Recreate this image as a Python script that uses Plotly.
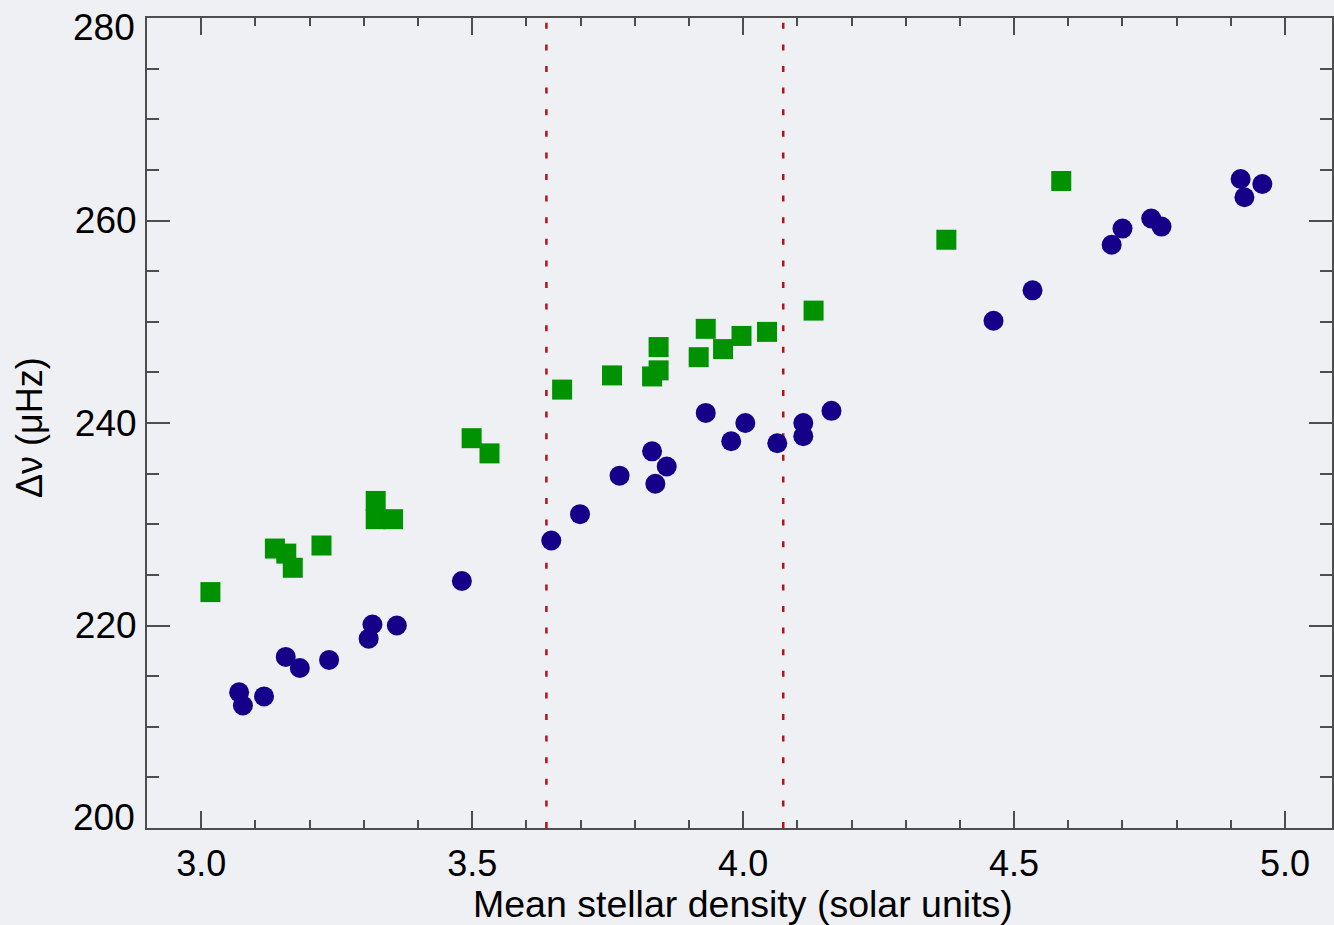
import plotly.graph_objects as go

# Large-separation measurements versus mean stellar density
density_circles = [3.070, 3.077, 3.116, 3.156, 3.182, 3.236, 3.309, 3.316, 3.361, 3.481,
                   3.646, 3.699, 3.772, 3.832, 3.838, 3.859, 3.931, 3.978, 4.004, 4.063,
                   4.111, 4.111, 4.163, 4.462, 4.534, 4.680, 4.700, 4.753, 4.772, 4.918,
                   4.925, 4.958]
dnu_circles = [213.4, 212.1, 213.0, 216.9, 215.8, 216.6, 218.7, 220.1, 220.0, 224.4,
               228.4, 231.0, 234.8, 237.2, 234.0, 235.7, 241.0, 238.2, 240.0, 238.0,
               240.0, 238.7, 241.2, 250.1, 253.1, 257.6, 259.2, 260.2, 259.4, 264.1,
               262.3, 263.6]

density_squares = [3.017, 3.136, 3.157, 3.169, 3.222, 3.322, 3.322, 3.354, 3.499, 3.532,
                   3.666, 3.758, 3.832, 3.844, 3.844, 3.918, 3.931, 3.963, 3.997, 4.044,
                   4.130, 4.375, 4.587]
dnu_squares = [223.3, 227.6, 227.1, 225.7, 227.9, 232.3, 230.5, 230.5, 238.5, 237.0,
               243.3, 244.7, 244.6, 245.2, 247.5, 246.5, 249.3, 247.3, 248.6, 249.0,
               251.1, 258.1, 263.9]

# Boundaries of the highlighted density interval
interval_bounds = [3.637, 4.074]

x_ticks = [3.0, 3.5, 4.0, 4.5, 5.0]
x_ticktext = ["3.0", "3.5", "4.0", "4.5", "5.0"]
y_ticks = [200, 220, 240, 260, 280]
y_ticktext = ["200", "220", "240", "260", "280"]

x_title = "Mean stellar density (solar units)"
y_title = "Δν (μHz)"

bg = "#eff0f4"
axis_col = "#4d4d4d"

fig = go.Figure()

fig.add_trace(go.Scatter(
    x=density_squares, y=dnu_squares, mode="markers",
    marker=dict(symbol="square", size=20, color="#009200", line=dict(width=0)),
    showlegend=False,
))
fig.add_trace(go.Scatter(
    x=density_circles, y=dnu_circles, mode="markers",
    marker=dict(symbol="circle", size=20, color="#15008a", line=dict(width=0)),
    showlegend=False,
))

for xb in interval_bounds:
    fig.add_shape(type="line", xref="x", yref="paper", x0=xb, x1=xb, y0=0, y1=1,
                  line=dict(color="#b3121b", width=2.5, dash="6px,15.6px"), layer="below")

# End labels of the y axis are nudged inward so they stay beside the frame
inner_text = [t if v not in (y_ticks[0], y_ticks[-1]) else "" for v, t in zip(y_ticks, y_ticktext)]
end_labels = []
for v, t in zip(y_ticks, y_ticktext):
    if v == y_ticks[0]:
        shift = 10.5
    elif v == y_ticks[-1]:
        shift = -9.5
    else:
        continue
    end_labels.append(dict(text=t, xref="paper", yref="y", x=0, y=v, xanchor="right",
                           yanchor="middle", xshift=-10, yshift=shift, showarrow=False,
                           font=dict(size=37)))

fig.update_layout(
    width=1334, height=925,
    margin=dict(l=147, r=0, t=18, b=97),
    paper_bgcolor=bg, plot_bgcolor=bg,
    font=dict(family="Liberation Sans, Arial, sans-serif", color="black"),
    xaxis=dict(
        range=[2.9, 5.0866], tickmode="array", tickvals=x_ticks, ticktext=x_ticktext,
        ticks="inside", ticklen=17, tickwidth=2, tickcolor=axis_col,
        minor=dict(ticks="inside", ticklen=8, tickwidth=2, tickcolor=axis_col, dtick=0.1,
                   tick0=2.9, showgrid=False),
        showline=True, linecolor=axis_col, linewidth=2, mirror="ticks",
        showgrid=False, zeroline=False, tickfont=dict(size=36), ticklabelstandoff=3,
        ticklabeloverflow="allow",
    ),
    yaxis=dict(
        range=[200, 280], tickmode="array", tickvals=y_ticks, ticktext=inner_text,
        ticks="inside", ticklen=23, tickwidth=2, tickcolor=axis_col,
        minor=dict(ticks="inside", ticklen=12, tickwidth=2, tickcolor=axis_col, dtick=5,
                   tick0=200, showgrid=False),
        showline=True, linecolor=axis_col, linewidth=2, mirror="ticks",
        showgrid=False, zeroline=False, tickfont=dict(size=37), ticklabelstandoff=1,
        ticklabeloverflow="allow",
    ),
    annotations=end_labels + [
        dict(text=x_title, xref="paper", yref="paper", x=0.503, y=-0.094,
             xanchor="center", yanchor="middle", showarrow=False, font=dict(size=37.5)),
        dict(text=y_title, xref="paper", yref="paper", x=-0.0986, y=0.494,
             xanchor="center", yanchor="middle", showarrow=False, textangle=-90,
             font=dict(size=36)),
    ],
)

fig.write_html("out.html")
